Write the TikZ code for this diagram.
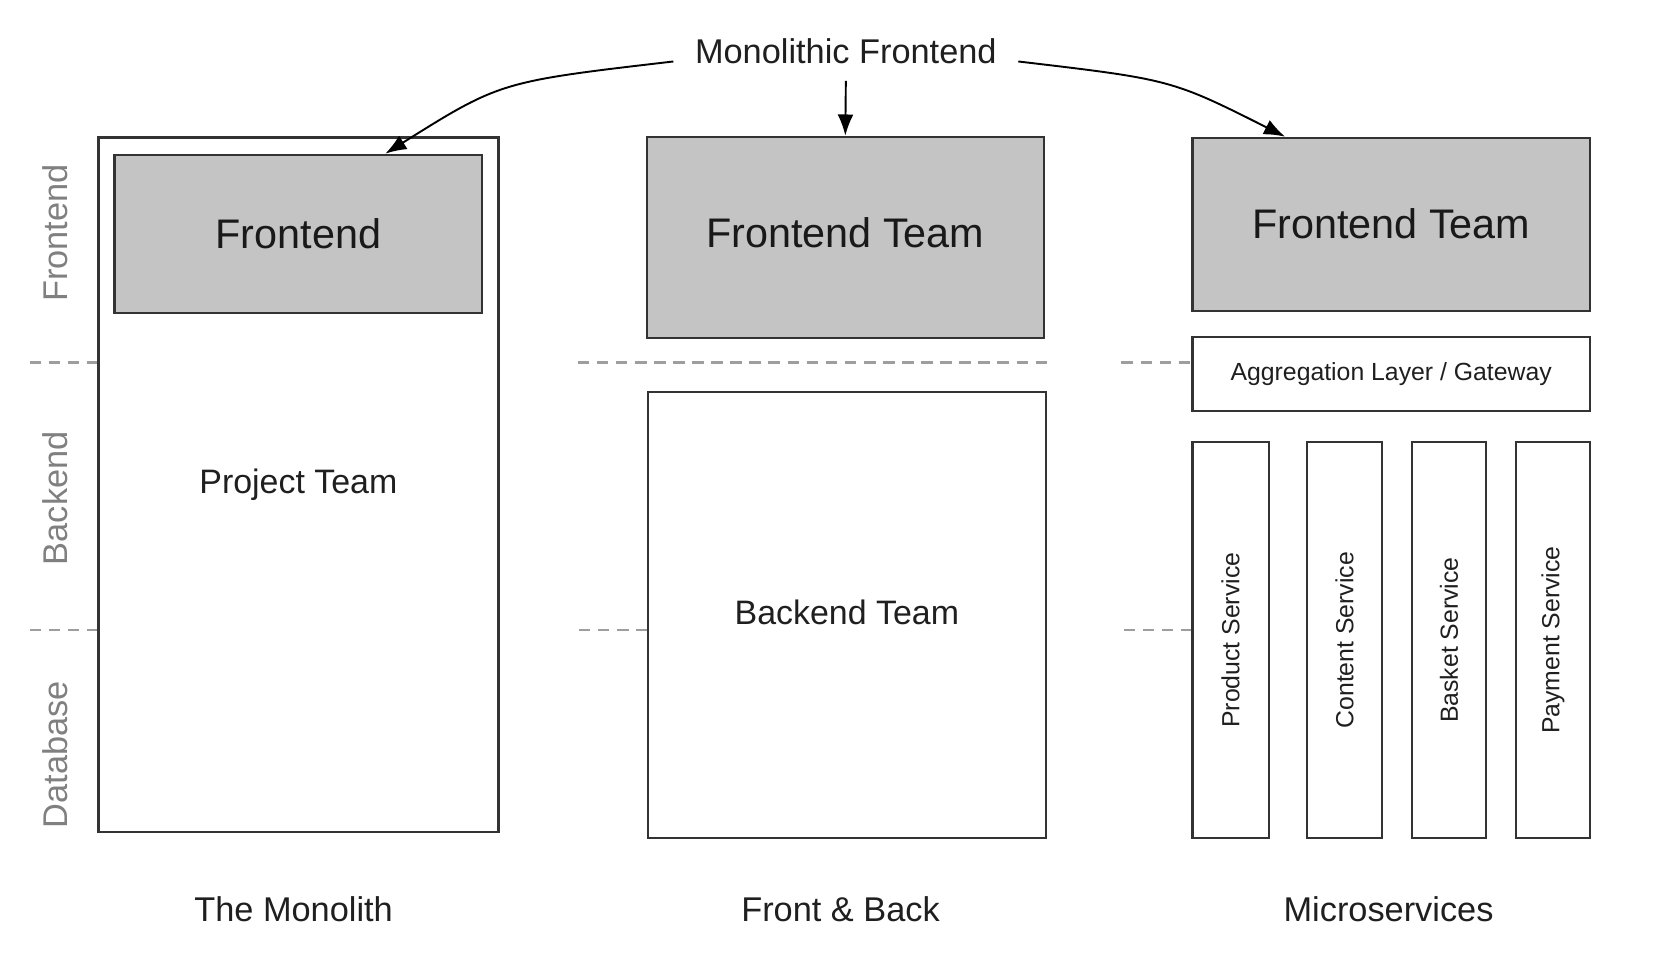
\documentclass[tikz,border=0pt]{standalone}
\usepackage{fontspec}
\setmainfont{Liberation Sans}
\usepackage{tikz}
\usetikzlibrary{arrows.meta, positioning, fit, calc}

\begin{document}
\begin{tikzpicture}[
    x=0.5pt, y=-0.5pt,
    box/.style={draw=black!80, line width=1pt, rectangle, inner sep=0pt},
    teambox/.style={box, fill=black!23},
    teamtext/.style={text=black!90, font=\fontsize{19.5}{23}\selectfont},
    boxtext/.style={text=black!88, font=\fontsize{16}{19}\selectfont},
    svctext/.style={text=black!88, font=\fontsize{11.7}{14}\selectfont},
    layerlabel/.style={rotate=90, text=black!50, font=\fontsize{16.2}{19}\selectfont},
    caption/.style={text=black!88, font=\fontsize{16.2}{19}\selectfont},
    sep/.style={draw=black!38, line width=1pt, dash pattern=on 5.5pt off 3.5pt},
    arrow/.style={line width=0.9pt, -{Latex[length=10pt,width=7.5pt]}}
]
\useasboundingbox (0,0) rectangle (1568,909);

% the monolith
\node[box, line width=1.3pt, fit={(93,130) (470,785)}] (mono) {};
\node[boxtext] (proj) at (mono) {Project Team};
\node[teambox, fit={(108,146) (455,295)}] (front1) {};
\node[teamtext] at (front1) {Frontend};

% front and back
\node[teambox, fit={(610,129) (985,319)}] (front2) {};
\node[teamtext] at ([yshift=2pt]front2.center) {Frontend Team};
\node[box, fit={(611,370) (987,791)}] (back2) {};
\node[boxtext] at ([yshift=1.5pt]back2.center) {Backend Team};

% microservices
\node[teambox, fit={(1125,130) (1500,293)}] (front3) {};
\node[teamtext] at (front3) {Frontend Team};
\node[box, fit={(1125,318) (1500,388)}] (gateway) {};
\node[svctext] at (gateway) {Aggregation Layer / Gateway};
\foreach \l/\r/\name/\txt in {1125/1197/product/Product Service,
    1233/1304/content/Content Service, 1332/1402/basket/Basket Service,
    1430/1500/payment/Payment Service}{
  \node[box, fit={(\l,417) (\r,791)}] (\name) {};
  \node[svctext, rotate=90] at (\name) {\txt};
}

% layer labels
\node[layerlabel] (lblfront) at (52,220) {Frontend};
\node[layerlabel] (lblback) at (52,470) {Backend};
\node[layerlabel] (lbldb) at (52,712) {Database};

% separators
\coordinate (sepA1) at (28,342);
\coordinate (sepA2) at (28,594);
\coordinate (sepB1) at (545,342);
\coordinate (sepB2) at (546,594);
\coordinate (sepC1) at (1058,342);
\coordinate (sepC2) at (1060,594);
\draw[sep] (sepA1) -- (sepA1 -| mono.west);
\draw[sep] (sepA2) -- (sepA2 -| mono.west);
\draw[sep] (sepB1) -- (sepB1 -| back2.east);
\draw[sep] (sepB2) -- (sepB2 -| back2.west);
\draw[sep] (sepC1) -- (sepC1 -| gateway.west);
\draw[sep] (sepC2) -- (sepC2 -| product.west);

% captions
\node[caption] (capmono) at (277,858) {The Monolith};
\node[caption] (capfb) at (793,858) {Front \& Back};
\node[caption] (capms) at (1310,858) {Microservices};

% monolithic frontend
\node[caption, inner xsep=10pt, inner ysep=8pt] (mfe) at (798,48) {Monolithic Frontend};
\draw[arrow] (mfe.south) -- (front2.north);
\draw[arrow] ([yshift=-5pt]mfe.west) .. controls (472,77) .. ([xshift=41pt]front1.north);
\draw[arrow] ([yshift=-5pt]mfe.east) .. controls (1105,75) .. ([xshift=-50pt]front3.north);
\end{tikzpicture}
\end{document}
